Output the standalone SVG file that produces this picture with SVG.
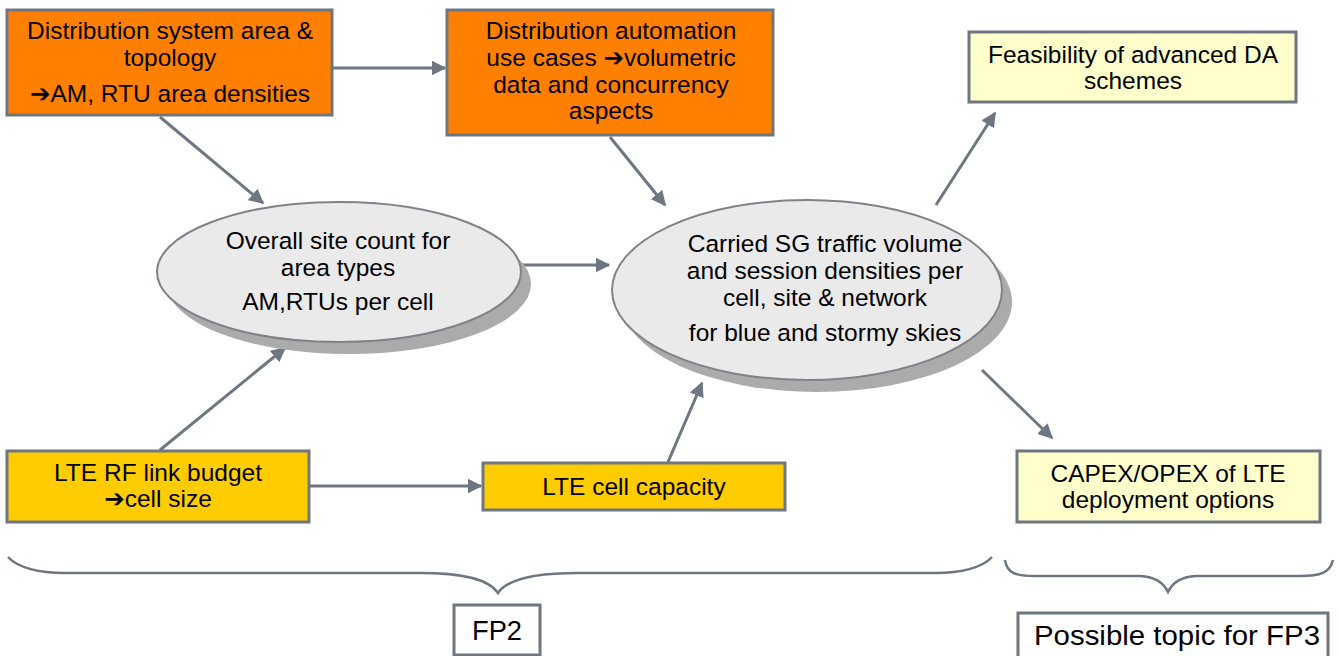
<svg xmlns="http://www.w3.org/2000/svg" width="1338" height="656" viewBox="0 0 1338 656">
<style>
text{font-family:"Liberation Sans",Arial,sans-serif;font-size:24.5px;fill:#000;text-anchor:middle}
.arw{font-family:"DejaVu Sans",sans-serif;font-weight:bold}
.box{stroke:#6E7681;stroke-width:3}
.org{fill:#FF8000}
.yel{fill:#FFCC00}
.pal{fill:#FFFFCC}
.wht{fill:#FFFFFF}
.ell{fill:#EAEAEA;stroke:#7F8388;stroke-width:2}
.shd{fill:#ABABAB}
.con{stroke:#6E7681;stroke-width:3;fill:none}
.brace{stroke:#6E7681;stroke-width:2.5;fill:none}
.lbl{font-size:27px}
</style>
<defs>
<marker id="ah" viewBox="0 0 10 10" refX="9" refY="5" markerWidth="5" markerHeight="5" markerUnits="strokeWidth" orient="auto">
<path d="M0,0 L10,5 L0,10 z" fill="#6E7681"/>
</marker>
</defs>
<g id="connectors">
<line class="con" x1="332" y1="68" x2="445" y2="68" marker-end="url(#ah)"/>
<line class="con" x1="160" y1="117" x2="263" y2="203" marker-end="url(#ah)"/>
<line class="con" x1="610" y1="137" x2="665" y2="205" marker-end="url(#ah)"/>
<line class="con" x1="521" y1="265" x2="609" y2="265" marker-end="url(#ah)"/>
<line class="con" x1="160" y1="450" x2="285" y2="348" marker-end="url(#ah)"/>
<line class="con" x1="309" y1="486" x2="481" y2="486" marker-end="url(#ah)"/>
<line class="con" x1="668" y1="462" x2="702" y2="383" marker-end="url(#ah)"/>
<line class="con" x1="936" y1="205" x2="995" y2="113" marker-end="url(#ah)"/>
<line class="con" x1="982" y1="370" x2="1052" y2="438" marker-end="url(#ah)"/>
</g>
<g id="n-dist-area">
<rect class="box org" x="7" y="10" width="325" height="105"/>
<text x="170" y="39">Distribution system area &amp;</text>
<text x="170" y="66">topology</text>
<text x="170" y="102"><tspan class="arw">➔</tspan>AM, RTU area densities</text>
</g>
<g id="n-da-usecases">
<rect class="box org" x="447" y="10" width="326" height="125"/>
<text x="611" y="39">Distribution automation</text>
<text x="611" y="66">use cases <tspan class="arw">➔</tspan>volumetric</text>
<text x="611" y="93">data and concurrency</text>
<text x="611" y="119">aspects</text>
</g>
<g id="n-feasibility">
<rect class="box pal" x="969" y="32" width="327" height="70"/>
<text x="1133" y="63">Feasibility of advanced DA</text>
<text x="1133" y="89">schemes</text>
</g>
<g id="n-site-count">
<ellipse class="shd" cx="349" cy="284" rx="182" ry="70"/>
<ellipse class="ell" cx="339" cy="272" rx="182" ry="70"/>
<text x="338" y="249">Overall site count for</text>
<text x="338" y="276">area types</text>
<text x="338" y="310">AM,RTUs per cell</text>
</g>
<g id="n-traffic">
<ellipse class="shd" cx="817" cy="302" rx="195" ry="90"/>
<ellipse class="ell" cx="807" cy="290" rx="195" ry="90"/>
<text x="825" y="252">Carried SG traffic volume</text>
<text x="825" y="279">and session densities per</text>
<text x="825" y="306">cell, site &amp; network</text>
<text x="825" y="341">for blue and stormy skies</text>
</g>
<g id="n-rf-budget">
<rect class="box yel" x="7" y="451" width="302" height="71"/>
<text x="158" y="481">LTE RF link budget</text>
<text x="158" y="507"><tspan class="arw">➔</tspan>cell size</text>
</g>
<g id="n-cell-capacity">
<rect class="box yel" x="483" y="463" width="302" height="47"/>
<text x="634" y="495">LTE cell capacity</text>
</g>
<g id="n-capex">
<rect class="box pal" x="1017" y="451" width="303" height="71"/>
<text x="1168" y="482">CAPEX/OPEX of LTE</text>
<text x="1168" y="508">deployment options</text>
</g>
<g id="braces">
<path class="brace" d="M8,557 C18,568 40,573 64,573 L420,573 C460,573 488,578 498,593 C508,578 538,573 578,573 L936,573 C960,573 982,568 992,557"/>
<path class="brace" d="M1005,560 C1007,573 1015,576 1035,576 L1140,576 C1155,577 1163,582 1168,592 C1173,582 1181,577 1196,576 L1300,576 C1320,576 1330,573 1333,560"/>
</g>
<g id="n-fp2">
<rect class="box wht" x="454" y="605" width="86" height="50" stroke-width="2"/>
<text class="lbl" x="497" y="640" textLength="50" lengthAdjust="spacingAndGlyphs">FP2</text>
</g>
<g id="n-fp3">
<rect class="box wht" x="1018" y="613" width="310" height="50" stroke-width="2"/>
<text class="lbl" x="1177" y="645" textLength="286" lengthAdjust="spacingAndGlyphs">Possible topic for FP3</text>
</g>
</svg>
